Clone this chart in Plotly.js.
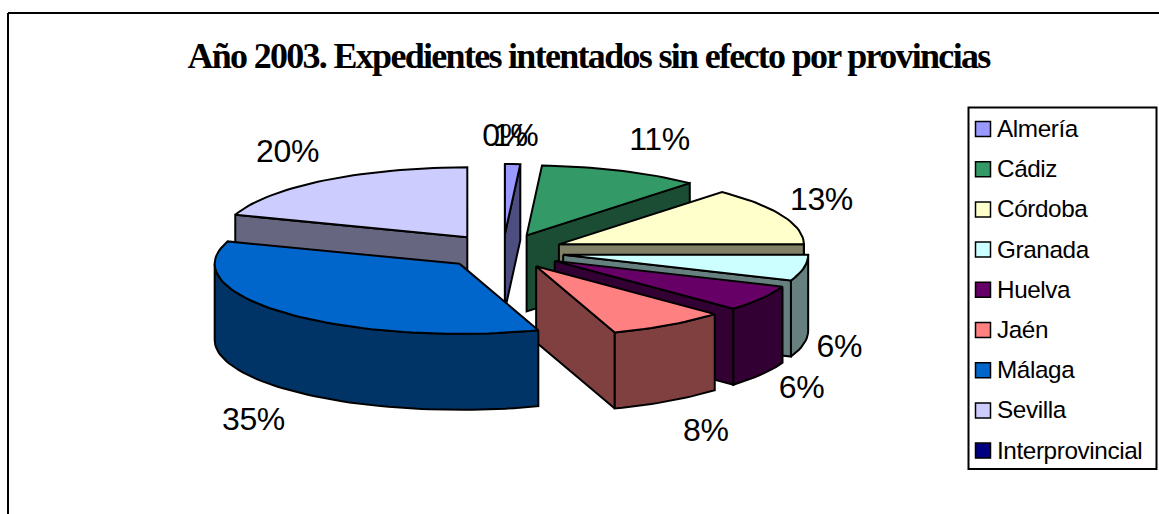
<!DOCTYPE html>
<html>
<head>
<meta charset="utf-8">
<script src="https://cdn.plot.ly/plotly-3.0.1.min.js"></script>
<style>
html,body{margin:0;padding:0;background:#fff;overflow:hidden}
#chart{width:1159px;height:514px}
.gtitle{letter-spacing:-1.7px}
.textpoint text{letter-spacing:-0.4px}
</style>
</head>
<body>
<div id="chart"></div>
<script>
const categories = ['Almería','Cádiz','Córdoba','Granada','Huelva','Jaén','Málaga','Sevilla','Interprovincial'];
const values = [1, 10.6, 13.4, 6, 6, 7.8, 35.4, 19.8, 0];
const topColors = ['#9999FF','#339966','#FFFFCC','#CCFFFF','#660066','#FF8080','#0066CC','#CCCCFF','#000080'];
const sideColors = ['#4D4D80','#1A4D33','#808066','#668080','#330033','#804040','#003366','#666680','#000040'];
const titleText = 'Año 2003. Expedientes intentados sin efecto por provincias';

// pie projection
const CX = 503, CY = 251.5, RX = 245, RY = 70, DEPTH = 76, EXPLODE = 0.25;
// paint order: back slices first
const paintOrder = [8,0,1,7,2,3,4,5,6];
// label nudges from each slice's arc midpoint
const labelNudgeX = [3,38.5,39,35.5,40,37,-33,-37,2];
const labelNudgeY = [-26,-29,-14,81,92,108,109,-26,-26];

const rad = d => d*Math.PI/180;
const total = values.reduce((a,b)=>a+b,0);
let cum = 0;
const slices = values.map((v,i)=>{
  const s = cum/total*360; cum += v; const e = cum/total*360;
  const m = (s+e)/2;
  return {i,s,e,m,
    ax: CX+EXPLODE*RX*Math.sin(rad(m)),
    ay: CY-EXPLODE*RY*Math.cos(rad(m))};
});
const px = (sl,t)=>sl.ax+RX*Math.sin(rad(t));
const py = (sl,t)=>sl.ay-RY*Math.cos(rad(t));

function poly(xs,ys,color,name){
  return {type:'scatter',mode:'lines',x:xs,y:ys,fill:'toself',fillcolor:color,
    line:{color:'#000',width:2,shape:'linear'},hoverinfo:'skip',showlegend:false,name:name};
}
function arcAngles(a,b){
  const out=[]; const n=Math.max(1,Math.ceil((b-a)/2));
  for(let k=0;k<=n;k++) out.push(a+(b-a)*k/n);
  return out;
}
const traces=[];
paintOrder.forEach(idx=>{
  const sl=slices[idx];
  if(values[idx]<=0) return;
  const side=sideColors[idx], top=topColors[idx], nm=categories[idx];
  const face=t=>poly([sl.ax,px(sl,t),px(sl,t),sl.ax,sl.ax],
                     [sl.ay,py(sl,t),py(sl,t)+DEPTH,sl.ay+DEPTH,sl.ay],side,nm);
  if(Math.sin(rad(sl.s))<0 || sl.s===0) traces.push(face(sl.s));
  if(Math.sin(rad(sl.e))>0) traces.push(face(sl.e));
  const a=Math.max(sl.s,90), b=Math.min(sl.e,270);
  if(b>a){
    const an=arcAngles(a,b);
    const xs=an.map(t=>px(sl,t)), ys=an.map(t=>py(sl,t));
    const xb=an.slice().reverse().map(t=>px(sl,t)), yb=an.slice().reverse().map(t=>py(sl,t)+DEPTH);
    traces.push(poly(xs.concat(xb,[xs[0]]),ys.concat(yb,[ys[0]]),side,nm));
  }
  const an=arcAngles(sl.s,sl.e);
  traces.push(poly([sl.ax].concat(an.map(t=>px(sl,t)),[sl.ax]),
                   [sl.ay].concat(an.map(t=>py(sl,t)),[sl.ay]),top,nm));
});

// percent labels
traces.push({type:'scatter',mode:'text',
  x:slices.map((sl,i)=>px(sl,sl.m)+labelNudgeX[i]),
  y:slices.map((sl,i)=>py(sl,sl.m)+labelNudgeY[i]),
  text:values.map(v=>Math.round(v/total*100)+'%'),
  textposition:'middle center',cliponaxis:false,
  textfont:{family:'Liberation Sans',size:32,color:'#000'},
  hoverinfo:'skip',showlegend:false});

// legend column
const LEG_X = 983, LEG_TOP = 129, LEG_ROW = 40.2;
const legY = categories.map((c,i)=>LEG_TOP+i*LEG_ROW);
traces.push({type:'scatter',mode:'markers',x:categories.map(()=>LEG_X),y:legY,
  marker:{symbol:'square',size:15,color:topColors,line:{color:'#000',width:1.5}},
  hoverinfo:'skip',showlegend:false});
traces.push({type:'scatter',mode:'text',x:categories.map(()=>LEG_X+14),y:legY.map(v=>v+2),text:categories,
  textposition:'middle right',cliponaxis:false,
  textfont:{family:'Liberation Sans',size:24.3,color:'#000'},
  hoverinfo:'skip',showlegend:false});

const layout={
  width:1159,height:514,margin:{l:0,r:0,t:0,b:0},
  paper_bgcolor:'#fff',plot_bgcolor:'#fff',showlegend:false,
  title:{text:'<b>'+titleText+'</b>',x:588.5/1159,xanchor:'center',y:1-55/514,yanchor:'middle',
    font:{family:'Liberation Serif',size:36,color:'#000'}},
  xaxis:{range:[0,1159],visible:false,fixedrange:true},
  yaxis:{range:[514,0],visible:false,fixedrange:true},
  shapes:[
    {type:'line',x0:8,x1:8,y0:13,y1:514,line:{color:'#000',width:2}},
    {type:'line',x0:8,x1:1159,y0:13,y1:13,line:{color:'#000',width:2}},
    {type:'rect',x0:968.5,x1:1156.5,y0:107.5,y1:469,line:{color:'#000',width:2},fillcolor:'rgba(0,0,0,0)'}
  ]
};
Plotly.newPlot('chart',traces,layout,{displayModeBar:false,staticPlot:true});
</script>
</body>
</html>
